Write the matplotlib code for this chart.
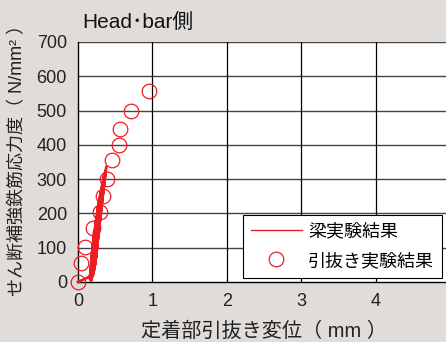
import matplotlib
matplotlib.use("Agg")
import matplotlib.pyplot as plt

plt.rcParams['font.family'] = ['Liberation Sans', 'Noto Sans CJK JP']

# Beam test (cyclic) result
beam_x = [0.0, 0.10, 0.15, 0.17, 0.20, 0.16, 0.22, 0.17, 0.24, 0.18, 0.26, 0.19,
          0.27, 0.18, 0.28, 0.20, 0.29, 0.19, 0.30, 0.21, 0.31, 0.20, 0.32, 0.22,
          0.33, 0.21, 0.33, 0.23, 0.34, 0.22, 0.35, 0.24, 0.35, 0.25, 0.36, 0.27,
          0.37, 0.30, 0.38]
beam_y = [0, 10, 15, 5, 110, 10, 150, 20, 180, 5, 200, 15,
          220, 10, 235, 25, 245, 15, 255, 30, 265, 20, 275, 40,
          285, 30, 290, 50, 295, 40, 305, 70, 310, 90, 318, 130,
          325, 200, 335]

# Pull-out test result
pull_x = [0.0, 0.04, 0.095, 0.20, 0.30, 0.34, 0.39, 0.46, 0.545, 0.57, 0.71, 0.96]
pull_y = [0, 55, 103, 157, 205, 250, 299, 357, 401, 445, 500, 558]

xticks = [0, 1, 2, 3, 4]
yticks = [0, 100, 200, 300, 400, 500, 600, 700]

bg = '#E0DCDA'
fig = plt.figure(figsize=(4.46, 3.42), dpi=100, facecolor=bg)
ax = fig.add_axes([78/446, 1 - 282/342, (450 - 78)/446, (282 - 42)/342])
ax.set_facecolor('white')

ax.set_xlim(0, 5)
ax.set_ylim(0, 700)

for yv in yticks[1:]:
    ax.axhline(yv, color='#444444', lw=1.0, zorder=1)
for xv in xticks[1:]:
    ax.axvline(xv, color='black', lw=0.9, zorder=1)

ax.plot(beam_x, beam_y, color='#ee1c25', lw=2.0, zorder=3, label='梁実験結果', clip_on=False)
ax.plot(pull_x, pull_y, linestyle='none', marker='o', markersize=10.5,
        markerfacecolor='none', markeredgecolor='#ee1c25', markeredgewidth=0.9,
        zorder=4, label='引抜き実験結果', clip_on=False)

ax.set_xticks(xticks)
ax.set_yticks(yticks)
ax.tick_params(length=0, labelsize=13, pad=8, colors='#222222')
for s in ['top', 'right']:
    ax.spines[s].set_visible(False)
for s in ['left', 'bottom']:
    ax.spines[s].set_color('black')
    ax.spines[s].set_linewidth(1.0)

ax.set_xlabel('定着部引抜き変位（ mm ）', fontsize=14.5, labelpad=8, color='#222222')
fig.text(18/446, 1 - 156/342, 'せん断補強鉄筋応力度（ N/mm² ）', fontsize=13,
         rotation=90, va='center', ha='center', color='#222222')

fig.text(82/446, 1 - 22/342, 'Head･bar側', fontsize=15, va='center', ha='left', color='#111111')

leg = ax.legend(loc='upper left', bbox_to_anchor=((243 - 78)/372, (282 - 215)/240),
                frameon=True, fancybox=False, fontsize=13, handlelength=2.8,
                borderpad=0.45, labelspacing=0.7, handletextpad=0.35, borderaxespad=0)
leg.get_lines()[0].set_linewidth(1.0)
leg.get_frame().set_edgecolor('black')
leg.get_frame().set_linewidth(0.8)
leg.get_frame().set_facecolor('white')
leg.get_frame().set_alpha(1)

fig.savefig('out.png', dpi=100, facecolor=bg)
